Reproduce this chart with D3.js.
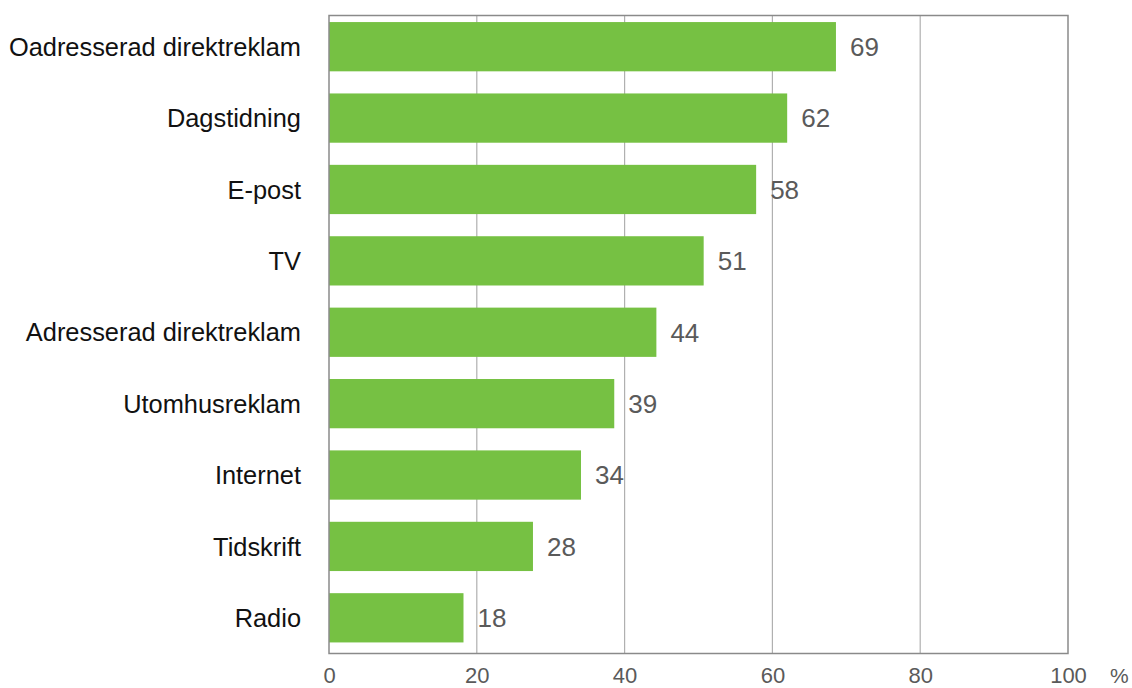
<!DOCTYPE html>
<html><head><meta charset="utf-8">
<script src="https://cdn.jsdelivr.net/npm/d3@7"></script>
<style>body{margin:0;background:#fff}svg{display:block}</style>
</head><body>
<script>
const categories = ["Oadresserad direktreklam","Dagstidning","E-post","TV","Adresserad direktreklam","Utomhusreklam","Internet","Tidskrift","Radio"];
const values = [68.6,62,57.8,50.7,44.3,38.6,34.1,27.6,18.2];
const tickValues = [0,20,40,60,80,100];
const unitLabel = "%";

(function(){
const W = 1132, H = 688;
const svg = d3.select("body").append("svg").attr("width",W).attr("height",H);
const x = d3.scaleLinear().domain([0,100]).range([329,1068]);
const y = d3.scaleBand().domain(categories).range([11,653.5]).paddingInner(0.31).paddingOuter(0.155);
const plotTop = 15.5, plotBottom = 653.5;
const fmt = d3.format(".0f");

svg.append("g").selectAll("line").data(tickValues.slice(1,-1)).join("line")
  .attr("x1",d=>x(d)).attr("x2",d=>x(d)).attr("y1",plotTop).attr("y2",plotBottom)
  .attr("stroke","#b0b0b0").attr("stroke-width",1.2);

svg.append("g").selectAll("rect").data(values).join("rect")
  .attr("x",x(0)).attr("y",(d,i)=>y(categories[i]))
  .attr("width",d=>x(d)-x(0)).attr("height",y.bandwidth())
  .attr("fill","#76c143");

svg.append("rect").attr("x",x(0)).attr("y",plotTop).attr("width",x(100)-x(0)).attr("height",plotBottom-plotTop)
  .attr("fill","none").attr("stroke","#8a8a8a").attr("stroke-width",1.5);

svg.append("g").selectAll("text").data(values).join("text")
  .attr("x",d=>x(d)+14).attr("y",(d,i)=>y(categories[i])+y.bandwidth()/2)
  .attr("dy","0.36em").attr("font-family","Liberation Sans, Arial, sans-serif")
  .attr("font-size",26).attr("fill","#5a5a5a").text(d=>fmt(d));

const yAxis = d3.axisLeft(y).tickSize(0).tickPadding(0);
const gy = svg.append("g").attr("transform","translate(301,0)").call(yAxis);
gy.select(".domain").remove();
gy.selectAll("text").attr("font-family","Liberation Sans, Arial, sans-serif").attr("font-size",25.4).attr("fill","#111").attr("dy","0.36em");

const xAxis = d3.axisBottom(x).tickValues(tickValues).tickSize(0).tickPadding(0);
const gx = svg.append("g").attr("transform","translate(0,683)").call(xAxis);
gx.select(".domain").remove();
gx.selectAll("text").attr("font-family","Liberation Sans, Arial, sans-serif").attr("font-size",22).attr("fill","#5a5a5a").attr("dy","0");

svg.append("text").attr("x",1110).attr("y",683)
  .attr("font-family","Liberation Sans, Arial, sans-serif").attr("font-size",21).attr("fill","#5a5a5a").text(unitLabel);
})();
</script>
</body></html>
